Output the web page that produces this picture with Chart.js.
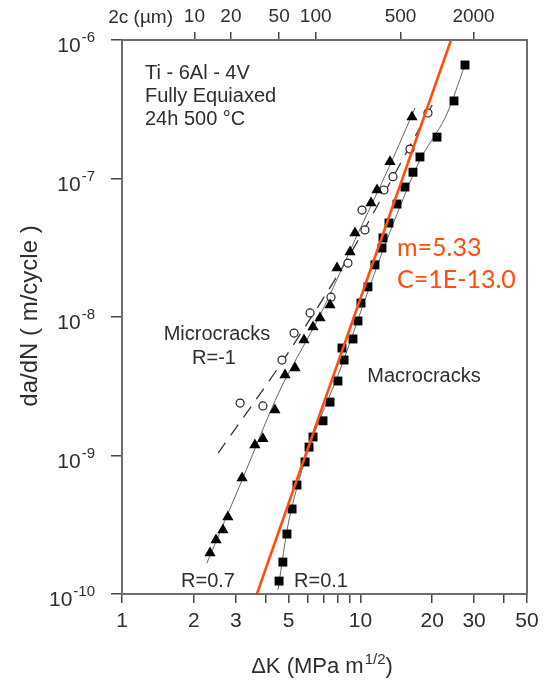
<!DOCTYPE html>
<html>
<head>
<meta charset="utf-8">
<script src="https://cdn.jsdelivr.net/npm/chart.js@4.4.0/dist/chart.umd.min.js"></script>
<style>
  html, body { margin: 0; padding: 0; background: #fff; }
  #wrap { width: 554px; height: 682px; }
</style>
</head>
<body>
<div id="wrap"><canvas id="crackChart" width="554" height="682"></canvas></div>
<script>
// ---- data ----
// Macrocracks R=0.1 (filled squares)
const macroDK = [4.56, 4.73, 4.92, 5.17, 5.42, 5.86, 6.09, 6.33, 6.97, 7.46, 8.05, 8.37, 8.54, 9.31, 9.77, 10.06, 10.76, 11.51, 12.32, 12.44, 13.18, 14.24, 15.38, 16.62, 17.78, 20.96, 24.7, 27.47];
const macroRate = [1.24e-10, 1.70e-10, 2.71e-10, 4.11e-10, 6.12e-10, 8.98e-10, 1.15e-9, 1.36e-9, 1.78e-9, 2.43e-9, 3.45e-9, 5.97e-9, 4.89e-9, 6.94e-9, 9.36e-9, 1.26e-8, 1.65e-8, 2.38e-8, 3.15e-8, 3.72e-8, 4.77e-8, 6.54e-8, 8.68e-8, 1.11e-7, 1.43e-7, 1.99e-7, 3.63e-7, 6.60e-7];
const macroFitDK = [4.51, 5.07, 6.15, 8.21, 10.45, 13.31, 17.78, 22.64, 27.47];
const macroFitRate = [1.07e-10, 3.72e-10, 1.19e-9, 4.14e-9, 1.33e-8, 4.11e-8, 1.36e-7, 2.73e-7, 6.6e-7];

// Microcracks R=0.7 (filled triangles)
const triDK = [2.34, 2.48, 2.65, 2.78, 3.19, 3.61, 3.90, 4.38, 4.83, 5.32, 5.80, 6.33, 6.77, 7.46, 7.98, 9.05, 9.49, 11.08, 11.74, 13.31, 16.46];
const triRate = [1.98e-10, 2.45e-10, 2.90e-10, 3.60e-10, 6.88e-10, 1.19e-9, 1.32e-9, 2.13e-9, 3.81e-9, 4.28e-9, 6.82e-9, 8.47e-9, 9.83e-9, 1.22e-8, 2.26e-8, 2.95e-8, 4.04e-8, 6.66e-8, 8.26e-8, 1.32e-7, 2.78e-7];
const triFitDK = [2.27, 3.19, 4.60, 6.77, 9.49, 13.31, 16.95];
const triFitRate = [1.67e-10, 6.65e-10, 2.97e-9, 1.03e-8, 3.6e-8, 1.25e-7, 3.23e-7];

// Microcracks R=-1 (open circles, dashed fit)
const circDK = [3.13, 3.90, 4.69, 5.27, 6.15, 7.53, 8.87, 10.16, 10.45, 12.56, 13.70, 16.15, 19.21];
const circRate = [2.39e-9, 2.28e-9, 4.89e-9, 7.66e-9, 1.07e-8, 1.39e-8, 2.45e-8, 5.92e-8, 4.25e-8, 8.26e-8, 1.03e-7, 1.63e-7, 2.97e-7];
const circFitDK = [2.53, 4.69, 8.87, 20.56];
const circFitRate = [1.04e-9, 4.73e-9, 2.67e-8, 3.69e-7];

// Paris law line (m=5.33, C=1E-13.0)
const parisDK = [3.68, 24.0];
const parisRate = [1e-10, 1e-6];

// axes
const xTicks = [1, 2, 3, 4, 5, 6, 7, 8, 9, 10, 20, 30, 40, 50];
const xLabeled = [1, 2, 3, 5, 10, 20, 30, 50];
const topTicks = [10, 20, 50, 100, 500, 2000];
const yTicks = [1e-10, 1e-9, 1e-8, 1e-7, 1e-6];
const yExponents = [-10, -9, -8, -7, -6];

const FONT = '"Liberation Sans", Arial, sans-serif';
const ORANGE = '#ff4d0d';
const TICK_COLOR = '#444';

function pts(xs, ys) {
    return xs.map((x, i) => ({ x: x, y: ys[i] }));
}

// draws base with a superscript, starting at x (left aligned)
function drawSup(ctx, base, sup, x, baseline, size, supSize, rise) {
    ctx.font = size + 'px ' + FONT;
    ctx.fillText(base, x, baseline);
    const wb = ctx.measureText(base).width;
    ctx.font = supSize + 'px ' + FONT;
    ctx.fillText(sup, x + wb + 1, baseline - rise);
    return wb + 1 + ctx.measureText(sup).width;
}

function supWidth(ctx, base, sup, size, supSize) {
    ctx.font = size + 'px ' + FONT;
    const wb = ctx.measureText(base).width;
    ctx.font = supSize + 'px ' + FONT;
    return wb + 1 + ctx.measureText(sup).width;
}

const decorPlugin = {
    id: 'decor',
    afterDraw(chart) {
        const ctx = chart.ctx;
        const area = chart.chartArea;
        const ys = chart.scales.y;
        ctx.save();

        // frame
        ctx.strokeStyle = '#6e6e6e';
        ctx.lineWidth = 2;
        ctx.strokeRect(area.left, area.top, area.right - area.left, area.bottom - area.top);

        ctx.fillStyle = '#2e2e2e';
        ctx.textAlign = 'left';
        ctx.textBaseline = 'alphabetic';

        // y tick labels 10^n
        yTicks.forEach((v, i) => {
            const py = ys.getPixelForValue(v);
            const w = supWidth(ctx, '10', String(yExponents[i]), 21, 15);
            drawSup(ctx, '10', String(yExponents[i]), area.left - 27 - w, py + 12, 21, 15, 10);
        });

        // top axis caption
        ctx.font = '19px ' + FONT;
        ctx.textAlign = 'right';
        ctx.fillText('2c (\u00b5m)', 173, 23);

        // y axis title
        ctx.save();
        ctx.translate(37, 316);
        ctx.rotate(-Math.PI / 2);
        ctx.textAlign = 'center';
        ctx.font = '24px ' + FONT;
        ctx.fillText('da/dN ( m/cycle )', 0, 0);
        ctx.restore();

        // x axis title with superscript
        ctx.textAlign = 'left';
        const w = supWidth(ctx, '\u0394K (MPa m', '1/2', 22, 15) + (() => { ctx.font = '22px ' + FONT; return ctx.measureText(')').width; })();
        let x0 = 322 - w / 2;
        const used = drawSup(ctx, '\u0394K (MPa m', '1/2', x0, 673, 22, 15, 9);
        ctx.font = '22px ' + FONT;
        ctx.fillText(')', x0 + used, 673);

        // material note
        ctx.font = '20px ' + FONT;
        ctx.fillText('Ti - 6Al - 4V', 145, 79);
        ctx.fillText('Fully Equiaxed', 145, 102);
        ctx.fillText('24h 500 \u00b0C', 145, 125);

        // curve labels
        ctx.textAlign = 'center';
        ctx.fillText('Microcracks', 217, 340);
        ctx.fillText('R=-1', 214, 364);
        ctx.fillText('Macrocracks', 424, 382);
        ctx.fillText('R=0.7', 208, 587);
        ctx.fillText('R=0.1', 321, 587);

        // Paris law parameters
        ctx.textAlign = 'left';
        ctx.fillStyle = ORANGE;
        ctx.font = '25px Lato, ' + FONT;
        ctx.fillText('m=5.33', 397, 256);
        ctx.fillText('C=1E-13.0', 397, 288);

        ctx.restore();
    }
};

const ctx = document.getElementById('crackChart').getContext('2d');

const crackChart = new Chart(ctx, {
    type: 'scatter',
    data: {
        datasets: [
            {
                label: 'Paris fit',
                data: pts(parisDK, parisRate),
                showLine: true,
                borderColor: ORANGE,
                borderWidth: 2.6,
                pointRadius: 0
            },
            {
                label: 'Macrocracks R=0.1',
                data: pts(macroDK, macroRate),
                pointStyle: 'rect',
                pointRadius: 6.3,
                backgroundColor: '#000',
                borderColor: '#000',
                borderWidth: 0
            },
            {
                label: 'Microcracks R=0.7',
                data: pts(triDK, triRate),
                pointStyle: 'triangle',
                pointRadius: 6.5,
                backgroundColor: '#000',
                borderColor: '#000',
                borderWidth: 0
            },
            {
                label: 'Microcracks R=-1',
                data: pts(circDK, circRate),
                pointStyle: 'circle',
                pointRadius: 4,
                backgroundColor: '#fff',
                borderColor: '#222',
                borderWidth: 1.2
            },
            {
                label: 'Macro fit',
                data: pts(macroFitDK, macroFitRate),
                showLine: true,
                tension: 0.3,
                borderColor: '#666',
                borderWidth: 1,
                pointRadius: 0
            },
            {
                label: 'R=0.7 fit',
                data: pts(triFitDK, triFitRate),
                showLine: true,
                tension: 0.3,
                borderColor: '#666',
                borderWidth: 1,
                pointRadius: 0
            },
            {
                label: 'R=-1 fit',
                data: pts(circFitDK, circFitRate),
                showLine: true,
                tension: 0.3,
                borderColor: '#333',
                borderWidth: 1.3,
                borderDash: [13, 9],
                pointRadius: 0
            }
        ]
    },
    options: {
        responsive: false,
        animation: false,
        layout: { padding: { left: 0, right: 27, top: 0, bottom: 0 } },
        plugins: {
            legend: { display: false },
            tooltip: { enabled: false }
        },
        scales: {
            x: {
                type: 'logarithmic',
                position: 'bottom',
                min: 1,
                max: 50,
                afterBuildTicks: (scale) => { scale.ticks = xTicks.map(v => ({ value: v })); },
                afterFit: (scale) => { scale.height = 88; },
                ticks: {
                    autoSkip: false,
                    maxRotation: 0,
                    padding: 6,
                    color: '#2e2e2e',
                    font: { family: FONT, size: 21 },
                    callback: (v) => xLabeled.includes(v) ? String(v) : ''
                },
                grid: { drawOnChartArea: false, tickLength: 9, color: TICK_COLOR, lineWidth: 1.5 },
                border: { display: false }
            },
            x2: {
                type: 'logarithmic',
                position: 'top',
                min: 2.53,
                max: 5520,
                afterBuildTicks: (scale) => { scale.ticks = topTicks.map(v => ({ value: v })); },
                afterFit: (scale) => { scale.height = 40; },
                ticks: {
                    autoSkip: false,
                    maxRotation: 0,
                    padding: 4,
                    color: '#2e2e2e',
                    font: { family: FONT, size: 19 },
                    callback: (v) => String(v)
                },
                grid: { drawOnChartArea: false, tickLength: 8, color: TICK_COLOR, lineWidth: 1.5 },
                border: { display: false }
            },
            y: {
                type: 'logarithmic',
                position: 'left',
                min: 1e-10,
                max: 1e-6,
                afterBuildTicks: (scale) => { scale.ticks = yTicks.map(v => ({ value: v })); },
                afterFit: (scale) => { scale.width = 122; },
                ticks: {
                    autoSkip: false,
                    callback: () => ''
                },
                grid: { drawOnChartArea: false, tickLength: 11, color: TICK_COLOR, lineWidth: 1.5 },
                border: { display: false }
            }
        }
    },
    plugins: [decorPlugin]
});
</script>
</body>
</html>
